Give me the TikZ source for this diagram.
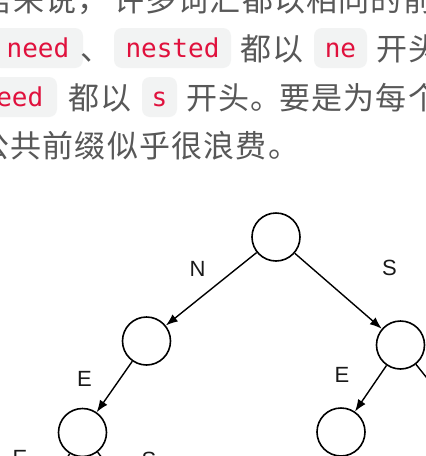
\documentclass[tikz,border=0pt]{standalone}
\usepackage{fontspec}
\setmainfont{Liberation Sans}
\newfontfamily\cjkfont[LetterSpace=3.9]{Noto Sans CJK SC}
\newfontfamily\codefont{DejaVu Sans Mono}
\usetikzlibrary{arrows.meta}
\definecolor{txtgray}{RGB}{88,88,88}
\definecolor{codered}{RGB}{224,17,61}
\definecolor{codebg}{RGB}{242,243,243}
\begin{document}
\begin{tikzpicture}[x=1pt,y=-1pt,
  cjk/.style={anchor=base west, inner sep=0pt, text=txtgray, font=\cjkfont\fontsize{31}{31}\selectfont},
  codebox/.style={fill=codebg, rounded corners=8pt, inner xsep=0pt, inner ysep=0pt, text height=29pt, text depth=11pt, text=codered, font=\codefont\fontsize{26}{26}\selectfont},
  tnode/.style={circle, draw=black, line width=1.6pt, minimum size=48pt, inner sep=0pt, fill=white},
  arr/.style={line width=1.4pt, -{Latex[length=12pt,width=9pt]}},
  elabel/.style={inner sep=0pt, font=\fontsize{22}{22}\selectfont, text=black!90}]
\useasboundingbox (0,0) rectangle (426,456);
\fill[white] (0,0) rectangle (426,456);
\clip (0,0) rectangle (426,456);

% ---- text block ----
% line 1
\node[cjk] (l1a) at (-51.4,11) {英语来说，};
\node[cjk] (l1b) at (113,11) {许多词汇都以相同的前缀开头};
% line 2
\node[codebox, minimum width=90pt] (need) at (38,48) {need};
\node[cjk] (l2a) at (80,60) {、};
\node[codebox, minimum width=117pt] (nested) at (172.5,48) {nested};
\node[cjk] (l2b) at (240,60) {都以};
\node[codebox, minimum width=53pt] (ne) at (340.5,48) {ne};
\node[cjk] (l2c) at (376,60) {开头，};
% line 3
\node[codebox, minimum width=105.8pt] (speed) at (4.1,97) {speed};
\node[cjk] (l3a) at (68,109) {都以};
\node[codebox, minimum width=35pt] (s) at (159.5,97) {s};
\node[cjk] (l3b) at (186,109) {开头。};
\node[cjk] (l3c) at (279,109) {要是为每个单词};
% line 4
\node[cjk] (l4) at (-22,157) {公共前缀似乎很浪费。};

% ---- tree ----
\node[tnode] (root) at (276,237) {};
\node[tnode] (L) at (146.5,341) {};
\node[tnode] (R) at (400.5,345) {};
\node[tnode] (LL) at (82.5,432.5) {};
\node[tnode] (RL) at (341,432) {};
\node[tnode] (RR) at (470,432) {};
\node[tnode] (LLL) at (27.5,523.5) {};
\node[tnode] (LLS) at (152.5,523.5) {};

\draw[arr] (root) -- (L);
\draw[arr] (root) -- (R);
\draw[arr] (L) -- (LL);
\draw[arr] (R) -- (RL);
\draw[arr] (R) -- (RR);
\draw[arr] (LL) -- (LLL);
\draw[arr] (LL) -- (LLS);

\node[elabel] (lN) at (197.5,268.5) {N};
\node[elabel] (lS) at (389.5,268) {S};
\node[elabel] (lE1) at (84.5,378.5) {E};
\node[elabel] (lE2) at (342,375) {E};
\node[elabel] (lE3) at (20,458) {E};
\node[elabel] (lS2) at (149,460) {S};
\end{tikzpicture}
\end{document}
